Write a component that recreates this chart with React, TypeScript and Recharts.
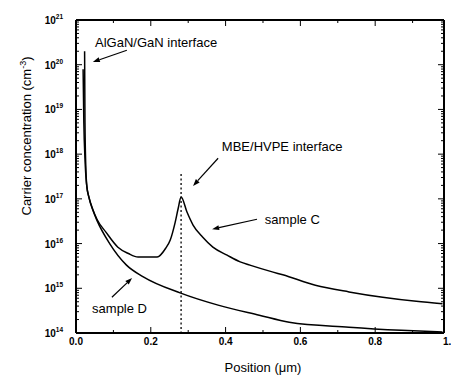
import React from 'react';
import { LineChart, Line, XAxis, YAxis, ReferenceLine, ReferenceDot } from 'recharts';

// Sample C (upper curve): position (µm) and carrier concentration (cm^-3)
const posC = [0.023, 0.024, 0.026, 0.029, 0.035, 0.045, 0.056, 0.08, 0.112, 0.14, 0.166, 0.217, 0.24, 0.252, 0.265, 0.273, 0.281, 0.297, 0.313, 0.339, 0.366, 0.404, 0.439, 0.465, 0.527, 0.553, 0.64, 0.73, 0.82, 0.91, 0.98];
const concC = [2.0e20, 5.0e18, 6.0e17, 1.9e17, 1.05e17, 5.8e16, 3.5e16, 1.8e16, 8.3e15, 6.0e15, 5.0e15, 5.0e15, 7.9e15, 1.2e16, 2.95e16, 6.0e16, 1.1e17, 5.0e16, 2.6e16, 1.38e16, 8.3e15, 5.5e15, 3.9e15, 3.3e15, 2.3e15, 2.0e15, 1.17e15, 8.3e14, 6.3e14, 5.1e14, 4.5e14];

// Sample D (lower curve)
const posD = [0.019, 0.021, 0.024, 0.028, 0.035, 0.045, 0.056, 0.09, 0.135, 0.18, 0.28, 0.38, 0.49, 0.57, 0.73, 0.87, 0.98];
const concD = [7.9e19, 5.0e18, 8.0e17, 2.2e17, 1.05e17, 5.6e16, 3.3e16, 1.0e16, 3.3e15, 1.8e15, 7.8e14, 4.2e14, 2.5e14, 1.74e14, 1.35e14, 1.15e14, 1.05e14];

const xTicks = [0, 0.1, 0.2, 0.3, 0.4, 0.5, 0.6, 0.7, 0.8, 0.9, 1.0];
const decades = [14, 15, 16, 17, 18, 19, 20, 21];
const mantissas = [1, 2, 3, 4, 5, 6, 7, 8, 9];

// MBE/HVPE interface marker
const interfacePos = 0.281;
const interfaceTop = 3.6e17;

const dataC = posC.map((x, i) => ({ x, y: concC[i] }));
const dataD = posD.map((x, i) => ({ x, y: concD[i] }));
const yTicks = decades.flatMap((k) => (k === 21 ? [Math.pow(10, k)] : mantissas.map((m) => m * Math.pow(10, k))));

const FONT = "'Liberation Sans', Arial, sans-serif";

const isMajorY = (v: number) => {
  const k = Math.round(Math.log10(v));
  return { k, major: Math.abs(v / Math.pow(10, k) - 1) < 1e-6 };
};

const LeftTick = (p: any) => {
  const { x, y, payload } = p;
  const { k, major } = isMajorY(payload.value);
  return (
    <g>
      <line x1={x} x2={x + (major ? 6 : 3)} y1={y} y2={y} stroke="#000" strokeWidth={1} />
      {major && (
        <text x={x - 13} y={y + 4} textAnchor="end" fontFamily={FONT} fontSize={10} fontWeight="bold" fill="#000">
          10<tspan dy={-5} fontSize={6.5}>{k}</tspan>
        </text>
      )}
    </g>
  );
};

const RightTick = (p: any) => {
  const { x, y, payload } = p;
  const { major } = isMajorY(payload.value);
  return <line x1={x} x2={x - (major ? 6 : 3)} y1={y} y2={y} stroke="#000" strokeWidth={1} />;
};

const BottomTick = (p: any) => {
  const { x, y, payload } = p;
  const v = payload.value;
  const major = Math.round(v * 10) % 2 === 0;
  return (
    <g>
      {v < 0.99 && <line x1={x} x2={x} y1={y} y2={y - (major ? 6 : 3)} stroke="#000" strokeWidth={1} />}
      {major && (
        <text x={x} y={y + 12} textAnchor="middle" fontFamily={FONT} fontSize={10} fontWeight="bold" fill="#000">
          {v.toFixed(1)}
        </text>
      )}
    </g>
  );
};

const TopTick = (p: any) => {
  const { x, y, payload } = p;
  const v = payload.value;
  if (v > 0.99) return <g />;
  const major = Math.round(v * 10) % 2 === 0;
  return <line x1={x} x2={x} y1={y} y2={y + (major ? 6 : 3)} stroke="#000" strokeWidth={1} />;
};

const Arrow = (p: any) => {
  const { x1, y1, x2, y2 } = p;
  const ang = Math.atan2(y2 - y1, x2 - x1);
  const L = 7;
  const W = 2.5;
  const bx = x2 - L * Math.cos(ang);
  const by = y2 - L * Math.sin(ang);
  const px = -Math.sin(ang) * W;
  const py = Math.cos(ang) * W;
  return (
    <g>
      <line x1={x1} y1={y1} x2={bx} y2={by} stroke="#000" strokeWidth={1.2} />
      <polygon points={`${x2},${y2} ${bx + px},${by + py} ${bx - px},${by - py}`} fill="#000" />
    </g>
  );
};

const textShape = (label: string) => (p: any) => (
  <text x={p.cx} y={p.cy} fontFamily={FONT} fontSize={13} fill="#000">
    {label}
  </text>
);

const XTitle = (p: any) => {
  const vb = p.viewBox;
  return (
    <text x={vb.x + vb.width / 2 + 3} y={vb.y + 39} textAnchor="middle" fontFamily={FONT} fontSize={13} fill="#000">
      Position (μm)
    </text>
  );
};

const YTitle = (p: any) => {
  const vb = p.viewBox;
  const cx = 31;
  const cy = vb.y + 116;
  return (
    <text x={cx} y={cy} transform={`rotate(-90, ${cx}, ${cy})`} textAnchor="middle" fontFamily={FONT} fontSize={13} fill="#000">
      Carrier concentration (cm<tspan dy={-5} fontSize={9}>-3</tspan>
      <tspan dy={5}>)</tspan>
    </text>
  );
};

export default function App() {
  return (
    <div style={{ position: 'absolute', left: 0, top: 0, width: 451, height: 376, background: '#fff' }}>
      <LineChart width={451} height={376} margin={{ top: 0, right: 0, bottom: 0, left: 0 }}>
        <XAxis
          xAxisId="b"
          dataKey="x"
          type="number"
          orientation="bottom"
          domain={[0, 0.984]}
          allowDataOverflow
          ticks={xTicks}
          interval={0}
          height={43}
          tickSize={0}
          tickMargin={0}
          tick={<BottomTick />}
          axisLine={{ stroke: '#000', strokeWidth: 2 }}
          label={<XTitle />}
        />
        <XAxis
          xAxisId="t"
          dataKey="x"
          type="number"
          orientation="top"
          domain={[0, 0.984]}
          allowDataOverflow
          ticks={xTicks}
          interval={0}
          height={20}
          tickSize={0}
          tickMargin={0}
          tick={<TopTick />}
          axisLine={{ stroke: '#000', strokeWidth: 2 }}
        />
        <YAxis
          yAxisId="l"
          type="number"
          scale="log"
          orientation="left"
          domain={[1e14, 1e21]}
          allowDataOverflow
          ticks={yTicks}
          interval={0}
          width={76}
          tickSize={0}
          tickMargin={0}
          tick={<LeftTick />}
          axisLine={{ stroke: '#000', strokeWidth: 2 }}
          label={<YTitle />}
        />
        <YAxis
          yAxisId="r"
          type="number"
          scale="log"
          orientation="right"
          domain={[1e14, 1e21]}
          allowDataOverflow
          ticks={yTicks}
          interval={0}
          width={7}
          tickSize={0}
          tickMargin={0}
          tick={<RightTick />}
          axisLine={{ stroke: '#000', strokeWidth: 2 }}
        />
        <Line xAxisId="b" yAxisId="l" data={dataC} dataKey="y" type="monotone" stroke="#000" strokeWidth={1.5} dot={false} isAnimationActive={false} />
        <Line xAxisId="b" yAxisId="l" data={dataD} dataKey="y" type="monotone" stroke="#000" strokeWidth={1.5} dot={false} isAnimationActive={false} />
        <ReferenceLine
          xAxisId="b"
          yAxisId="l"
          segment={[{ x: interfacePos, y: interfaceTop }, { x: interfacePos, y: 1e14 }]}
          stroke="#000"
          strokeWidth={1.3}
          strokeDasharray="2 2.5"
        />
        <ReferenceLine xAxisId="b" yAxisId="l" segment={[{ x: 0.136, y: 2.1e20 }, { x: 0.045, y: 1.15e20 }]} shape={<Arrow />} />
        <ReferenceLine xAxisId="b" yAxisId="l" segment={[{ x: 0.38, y: 8.1e17 }, { x: 0.313, y: 1.95e17 }]} shape={<Arrow />} />
        <ReferenceLine xAxisId="b" yAxisId="l" segment={[{ x: 0.484, y: 3.5e16 }, { x: 0.364, y: 2.1e16 }]} shape={<Arrow />} />
        <ReferenceLine xAxisId="b" yAxisId="l" segment={[{ x: 0.096, y: 6.3e14 }, { x: 0.15, y: 1.7e15 }]} shape={<Arrow />} />
        <ReferenceDot xAxisId="b" yAxisId="l" x={0.051} y={2.5e20} r={0} shape={textShape('AlGaN/GaN interface')} />
        <ReferenceDot xAxisId="b" yAxisId="l" x={0.39} y={1.17e18} r={0} shape={textShape('MBE/HVPE interface')} />
        <ReferenceDot xAxisId="b" yAxisId="l" x={0.505} y={2.75e16} r={0} shape={textShape('sample C')} />
        <ReferenceDot xAxisId="b" yAxisId="l" x={0.043} y={2.8e14} r={0} shape={textShape('sample D')} />
      </LineChart>
    </div>
  );
}
